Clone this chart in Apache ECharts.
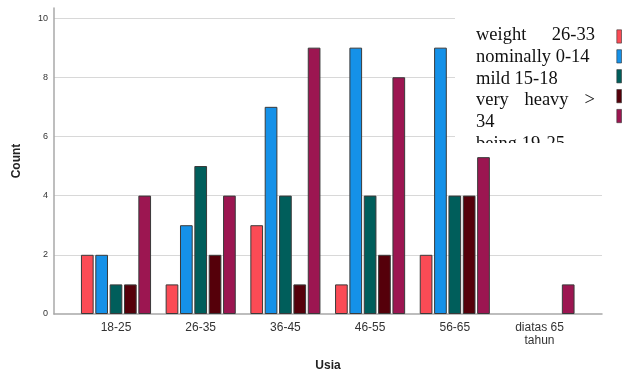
<!DOCTYPE html>
<html>
<head>
<meta charset="utf-8">
<script src="https://cdn.jsdelivr.net/npm/echarts@6/dist/echarts.min.js"></script>
<style>
html, body { margin: 0; padding: 0; background: #fff; }
#chart { width: 622px; height: 371px; }
</style>
</head>
<body>
<div id="chart"></div>
<script>
// data
var categories = ['18-25', '26-35', '36-45', '46-55', '56-65', 'diatas 65\ntahun']
var seriesNames = ['weight 26-33', 'nominally 0-14', 'mild 15-18', 'very heavy > 34', 'being 19-25']
var weight = [2, 1, 3, 1, 2, null]
var nominally = [2, 3, 7, 9, 9, null]
var mild = [1, 5, 4, 4, 4, null]
var veryHeavy = [1, 2, 1, 2, 4, null]
var being = [4, 4, 9, 8, 5.3, 1]
var yTicks = [0, 2, 4, 6, 8, 10]
var colors = ['#fb4b55', '#1591e8', '#005e5b', '#55000a', '#9c1651']

var seriesData = [weight, nominally, mild, veryHeavy, being]
var font = '"Liberation Sans", Arial, sans-serif'
var serif = '"Liberation Serif", "Times New Roman", serif'

var myChart = echarts.init(document.getElementById('chart'))

var series = seriesData.map(function (d, i) {
  return {
    name: seriesNames[i],
    type: 'bar',
    xAxisIndex: 1,
    yAxisIndex: 1,
    barWidth: 12.7,
    barGap: '13%',
    itemStyle: { color: colors[i], borderColor: '#3a3a3a', borderWidth: 1 },
    emphasis: { disabled: true },
    data: d
  }
})

// legend text (drawn by hand because it is justified and clipped)
var textLines = [
  [['weight', 476, 'left'], ['26-33', 595, 'right']],
  [['nominally 0-14', 476, 'left']],
  [['mild 15-18', 476, 'left']],
  [['very', 476, 'left'], ['heavy', 546.5, 'center'], ['>', 595, 'right']],
  [['34', 476, 'left']],
  [['being 19-25', 476, 'left']]
]
var graphics = [
  { type: 'rect', z: 100, shape: { x: 455, y: 0, width: 167, height: 143 }, style: { fill: '#fff' } }
]
textLines.forEach(function (line, i) {
  line.forEach(function (t) {
    graphics.push({
      type: 'text', z: 101, x: t[1], y: 35.5 + i * 21.7,
      style: { text: t[0], font: '18.5px ' + serif, fill: '#111', align: t[2], verticalAlign: 'middle' }
    })
  })
})
graphics.push({ type: 'rect', z: 102, shape: { x: 455, y: 143, width: 155, height: 11.5 }, style: { fill: '#fff' } })

var option = {
  animation: false,
  textStyle: { fontFamily: font },
  grid: [
    { left: 54, right: 20, top: 8, bottom: 57, outerBoundsMode: 'none' },
    { left: 73.65, right: 40.15, top: 8, bottom: 57, outerBoundsMode: 'none' }
  ],
  legend: {
    orient: 'vertical',
    left: 616.5,
    top: 29.5,
    padding: 0,
    z: 200,
    itemWidth: 4.7,
    itemHeight: 13.3,
    itemGap: 6,
    icon: 'rect',
    selectedMode: false,
    itemStyle: { borderWidth: 0.6, borderColor: '#333' },
    formatter: function () { return '' },
    data: seriesNames
  },
  xAxis: [
    {
      type: 'value', gridIndex: 0, min: 0, max: 1,
      axisLine: { show: true, lineStyle: { color: '#a8a8a8', width: 1.5 } },
      axisTick: { show: false }, axisLabel: { show: false }, splitLine: { show: false },
      name: 'Usia', nameLocation: 'middle', nameGap: 46,
      nameTextStyle: { fontSize: 12, fontWeight: 'bold', color: '#222', fontFamily: font }
    },
    {
      type: 'category', gridIndex: 1, data: categories,
      axisLine: { show: false }, axisTick: { show: false },
      axisLabel: { fontSize: 12, color: '#333', margin: 7, lineHeight: 13, fontFamily: font }
    }
  ],
  yAxis: [
    {
      type: 'value', gridIndex: 0, min: 0, max: 10.34, interval: 2,
      axisLine: { show: true, lineStyle: { color: '#a8a8a8', width: 1.5 } },
      axisTick: { show: false },
      axisLabel: {
        fontSize: 9, color: '#333', margin: 6, fontFamily: font,
        formatter: function (v) { return yTicks.indexOf(v) >= 0 ? String(v) : '' }
      },
      splitLine: { show: true, showMinLine: false, showMaxLine: false, lineStyle: { color: '#d8d8d8', width: 1 } },
      name: 'Count', nameLocation: 'middle', nameGap: 31,
      nameTextStyle: { fontSize: 12, fontWeight: 'bold', color: '#222', fontFamily: font }
    },
    {
      type: 'value', gridIndex: 1, min: 0, max: 10.34, show: false
    }
  ],
  graphic: graphics,
  series: series
}

myChart.setOption(option)
</script>
</body>
</html>
